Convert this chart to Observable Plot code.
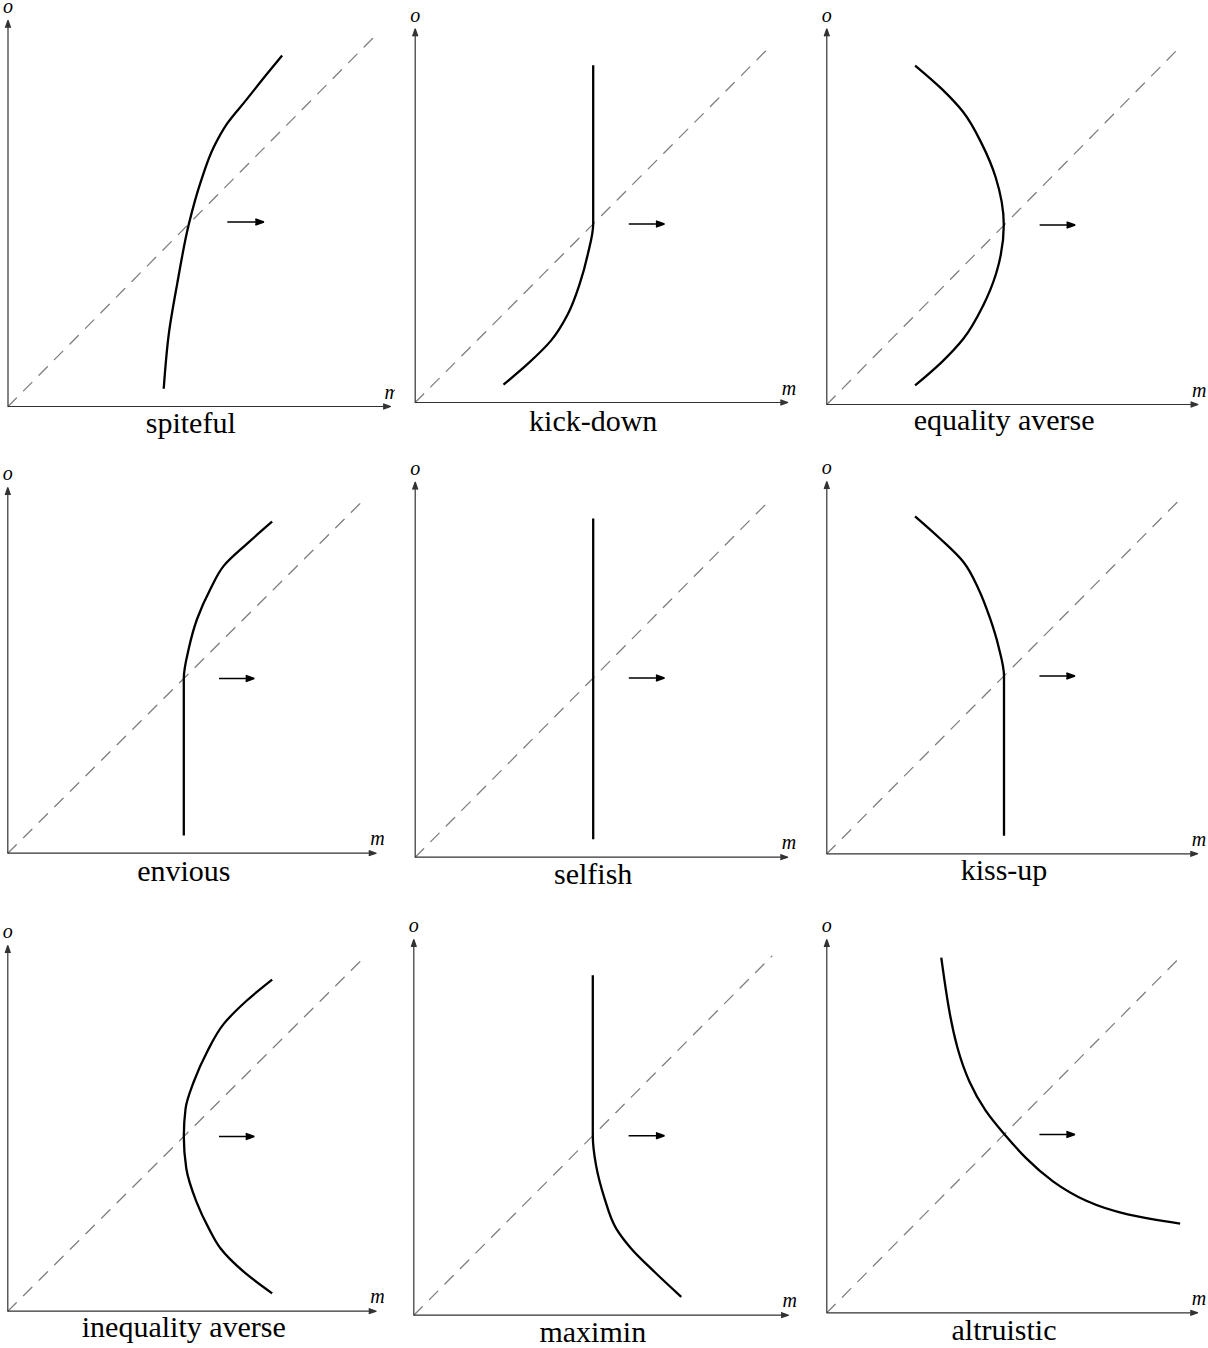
<!DOCTYPE html>
<html><head><meta charset="utf-8">
<script src="https://cdn.jsdelivr.net/npm/d3@7"></script>
<script src="https://cdn.jsdelivr.net/npm/@observablehq/plot@0.6"></script>
<style>
html,body{margin:0;padding:0;background:#fff;overflow:hidden;}
#chart{position:relative;width:1208px;height:1348px;overflow:hidden;background:#fff;}
#chart svg{position:absolute;left:0;top:0;}
</style></head><body><div id="chart"></div>
<script>
// ---- data (m = own payoff, o = other's payoff), diagonal runs 0..10 ----
const titles = ["spiteful","kick-down","equality averse","envious","selfish","kiss-up","inequality averse","maximin","altruistic"];

const spitefulM = [4.26, 4.40, 4.63, 4.95, 5.27, 5.63, 5.99, 6.52, 7.10, 7.50];
const spitefulO = [0.48, 1.97, 3.33, 4.95, 6.08, 7.03, 7.66, 8.31, 9.03, 9.51];

const kickDownM = [2.48, 3.16, 3.82, 4.29, 4.62, 4.85, 5.00, 5.00];
const kickDownO = [0.50, 1.08, 1.74, 2.48, 3.32, 4.16, 5.00, 9.45];

const equalityM = [2.49, 3.24, 3.85, 4.37, 4.76, 4.99, 4.78, 4.40, 3.85, 3.24, 2.49];
const equalityO = [9.44, 8.79, 8.14, 7.26, 6.33, 5.00, 3.67, 2.74, 1.83, 1.18, 0.53];

const enviousM = [5.00, 5.00, 5.14, 5.38, 5.76, 6.14, 6.80, 7.51];
const enviousO = [0.51, 5.00, 5.85, 6.71, 7.57, 8.23, 8.86, 9.49];

const selfishM = [5.00, 5.00];
const selfishO = [0.50, 9.45];

const kissUpM = [2.49, 3.20, 3.86, 4.28, 4.61, 4.85, 5.00, 5.00];
const kissUpO = [9.49, 8.86, 8.20, 7.45, 6.61, 5.81, 5.00, 0.51];

const inequalityM = [7.51, 6.80, 6.14, 5.66, 5.28, 5.05, 5.00, 5.07, 5.36, 5.71, 6.04, 6.70, 7.51];
const inequalityO = [9.49, 8.90, 8.23, 7.42, 6.56, 5.80, 5.01, 4.09, 3.13, 2.37, 1.80, 1.13, 0.51];

const maximinM = [5.00, 5.00, 5.09, 5.33, 5.65, 6.07, 6.72, 7.47];
const maximinO = [9.47, 5.00, 4.18, 3.25, 2.42, 1.86, 1.21, 0.51];

const altruisticM = [3.23, 3.43, 3.67, 4.00, 4.47, 4.99, 5.60, 6.35, 7.29, 8.42, 9.97];
const altruisticO = [9.96, 8.53, 7.41, 6.47, 5.64, 5.03, 4.33, 3.67, 3.11, 2.74, 2.50];

const diagonalEnd = 10;      // dashed 45° line from origin to (10,10)
const axisEnd = 10.47;       // axis arrows extend a bit past the diagonal
const shiftArrow = [6, 7];   // small arrow: m from 6 to 7
const shiftArrowO = 5;       // at o = 5

const seriesM = [spitefulM, kickDownM, equalityM, enviousM, selfishM, kissUpM, inequalityM, maximinM, altruisticM];
const seriesO = [spitefulO, kickDownO, equalityO, enviousO, selfishO, kissUpO, inequalityO, maximinO, altruisticO];

// ---- layout (pixel geometry of each panel) ----
const layout = [
  {ox: 7.5,   oy: 406,    ux: 36.55, uy: 36.9,  tdy: 26, w: 395},
  {ox: 414.7, oy: 402,    ux: 35.6,  uy: 35.7,  tdy: 28},
  {ox: 826.3, oy: 404,    ux: 35.47, uy: 35.9,  tdy: 25},
  {ox: 7.3,   oy: 852.7,  ux: 35.2,  uy: 34.94, tdy: 28},
  {ox: 414.7, oy: 856.7,  ux: 35.6,  uy: 35.84, tdy: 27},
  {ox: 826.3, oy: 853.3,  ux: 35.44, uy: 35.56, tdy: 26},
  {ox: 7.3,   oy: 1310.7, ux: 35.2,  uy: 34.94, tdy: 26},
  {ox: 413.3, oy: 1314.7, ux: 35.8,  uy: 35.9,  tdy: 27},
  {ox: 826.3, oy: 1312.3, ux: 35.44, uy: 35.66, tdy: 27, curve: "basis"}
];

const serif = "'Liberation Serif', 'DejaVu Serif', serif";
const chart = document.getElementById("chart");

layout.forEach((L, k) => {
  const pts = seriesM[k].map((m, i) => ({m, o: seriesO[k][i]}));
  const axes = [
    {x1: 0, y1: 0, x2: axisEnd, y2: 0},
    {x1: 0, y1: 0, x2: 0, y2: axisEnd}
  ];
  const svg = Plot.plot({
    width: L.w || 1208,
    height: 1348,
    margin: 0,
    style: {background: "transparent", overflow: "hidden"},
    x: {domain: [0, 10], range: [L.ox, L.ox + 10 * L.ux], axis: null},
    y: {domain: [0, 10], range: [L.oy, L.oy - 10 * L.uy], axis: null},
    marks: [
      Plot.line([{m: 0, o: 0}, {m: diagonalEnd, o: diagonalEnd}], {
        x: "m", y: "o", stroke: "#7d7d7d", strokeWidth: 1.25, strokeDasharray: "12,10"
      }),
      Plot.arrow(axes, {
        x1: "x1", y1: "y1", x2: "x2", y2: "y2",
        stroke: "#333", fill: "#333", strokeWidth: 1.2,
        headLength: 10, headAngle: 38, strokeLinecap: "butt"
      }),
      Plot.line(pts, {
        x: "m", y: "o", stroke: "black", strokeWidth: 2.3,
        curve: L.curve || "monotone-y", strokeLinecap: "butt"
      }),
      Plot.arrow([{x1: shiftArrow[0], x2: shiftArrow[1], y: shiftArrowO}], {
        x1: "x1", x2: "x2", y1: "y", y2: "y",
        stroke: "black", fill: "black", strokeWidth: 1.5,
        headLength: 9, headAngle: 40, strokeLinecap: "butt"
      }),
      Plot.text([{m: 0, o: axisEnd, t: "o"}], {
        x: "m", y: "o", text: "t", dy: -7, lineAnchor: "bottom",
        fontFamily: serif, fontStyle: "italic", fontSize: 20
      }),
      Plot.text([{m: axisEnd, o: 0, t: "m"}], {
        x: "m", y: "o", text: "t", dx: 1, dy: -8, lineAnchor: "bottom",
        fontFamily: serif, fontStyle: "italic", fontSize: 20
      }),
      Plot.text([{m: 5, o: 0, t: titles[k]}], {
        x: "m", y: "o", text: "t", dy: L.tdy, lineAnchor: "bottom",
        fontFamily: serif, fontSize: 30
      })
    ]
  });
  chart.appendChild(svg);
});
</script>
</body></html>
